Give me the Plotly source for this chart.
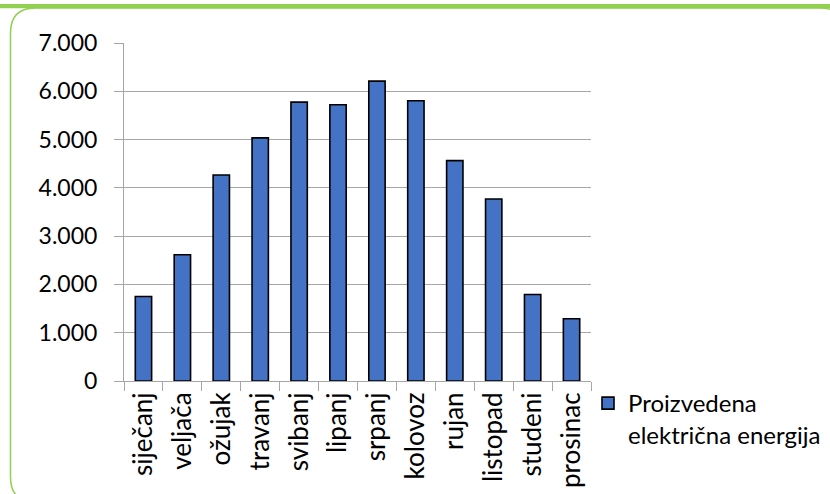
import plotly.graph_objects as go

months = ["siječanj", "veljača", "ožujak", "travanj", "svibanj", "lipanj",
          "srpanj", "kolovoz", "rujan", "listopad", "studeni", "prosinac"]
energy = [1750, 2615, 4265, 5035, 5775, 5720, 6210, 5805, 4565, 3770, 1790, 1290]
series_name = "Proizvedena<br>električna energija"
y_ticks = [0, 1000, 2000, 3000, 4000, 5000, 6000, 7000]
y_tick_text = ["0", "1.000", "2.000", "3.000", "4.000", "5.000", "6.000", "7.000"]

W, H = 830, 494
L, R, T, B = 124, 591, 43, 381  # plot area in pixels

def px(x):
    return (x - L) / (R - L)

def py(y):
    return (B - y) / (B - T)

fig = go.Figure()
fig.add_trace(go.Bar(
    x=months, y=energy, name=series_name, width=0.42,
    marker=dict(color="#4472C4", line=dict(color="#000000", width=1.6)),
    showlegend=True,
))

grid = "#A6A6A6"
font = "Lato, 'Open Sans', sans-serif"

# outer decoration: thick top band + thin rounded frame
r = 25
x0, y0, x1, y1 = 10.5, 8, 845, 502
frame = (f"M {px(x0+r)},{py(y0)} L {px(x1-r)},{py(y0)} "
         f"Q {px(x1)},{py(y0)} {px(x1)},{py(y0+r)} L {px(x1)},{py(y1-r)} "
         f"Q {px(x1)},{py(y1)} {px(x1-r)},{py(y1)} L {px(x0+r)},{py(y1)} "
         f"Q {px(x0)},{py(y1)} {px(x0)},{py(y1-r)} L {px(x0)},{py(y0+r)} "
         f"Q {px(x0)},{py(y0)} {px(x0+r)},{py(y0)} Z")
shapes = [
    dict(type="path", xref="paper", yref="paper", path=frame,
         line=dict(color="#92D050", width=1.5), layer="below"),
    dict(type="rect", xref="paper", yref="paper", x0=px(0), x1=px(W), y0=py(4), y1=py(8.3),
         fillcolor="#92D050", line=dict(width=0), layer="above"),
]

fig.update_layout(
    width=W, height=H,
    margin=dict(l=L, r=W - R, t=T, b=H - B, pad=0, autoexpand=False),
    paper_bgcolor="white", plot_bgcolor="white",
    font=dict(family=font, size=23, color="#000000"),
    bargap=0.58,
    shapes=shapes,
    showlegend=True,
    legend=dict(x=px(588), y=py(381), xanchor="left", yanchor="top",
                font=dict(size=24, family=font), bgcolor="rgba(0,0,0,0)",
                valign="top", itemwidth=30, tracegroupgap=0),
    xaxis=dict(
        type="category", tickangle=-90, showgrid=False,
        showline=True, linecolor=grid, linewidth=1,
        ticks="outside", ticklen=9, tickcolor=grid, tickwidth=1,
        tickson="boundaries", tickfont=dict(size=26, family=font),
        range=[-0.5, 11.5], fixedrange=True,
    ),
    yaxis=dict(
        range=[0, 7000], tickvals=y_ticks, ticktext=y_tick_text,
        showgrid=True, gridcolor=grid, gridwidth=1,
        showline=True, linecolor=grid, linewidth=1,
        ticks="outside", ticklen=9, tickcolor=grid, tickwidth=1,
        tickfont=dict(size=23, family=font), ticklabelstandoff=12,
        zeroline=False, fixedrange=True,
    ),
)

fig.write_html("out.html")
